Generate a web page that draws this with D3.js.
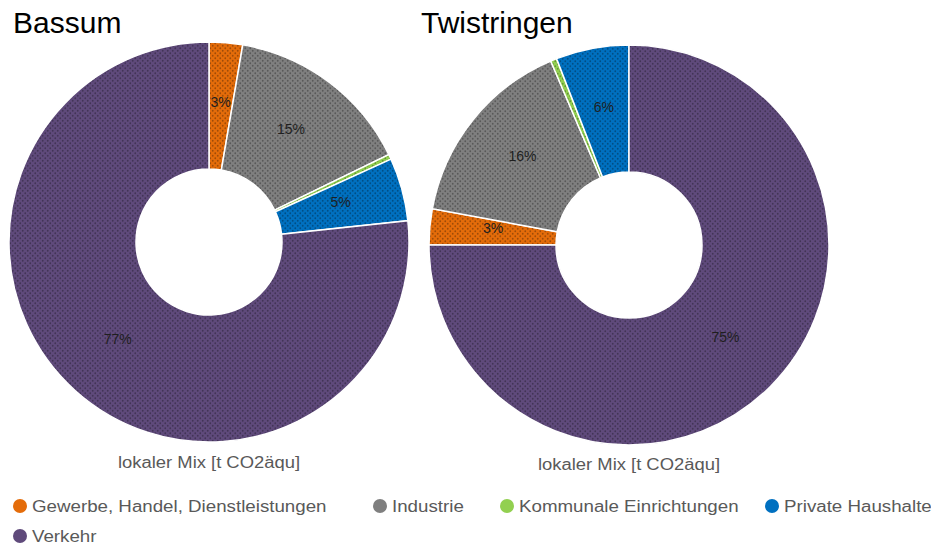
<!DOCTYPE html>
<html>
<head>
<meta charset="utf-8">
<script src="https://cdn.jsdelivr.net/npm/d3@7"></script>
<style>
  body { margin: 0; background: #fff; }
  svg { display: block; }
</style>
</head>
<body>
<div id="chart"></div>
<script>
// data (share of t CO2aeq)
var categories = ["Gewerbe, Handel, Dienstleistungen", "Industrie", "Kommunale Einrichtungen", "Private Haushalte", "Verkehr"];
var colors = ["#e46c0a", "#7f7f7f", "#92d050", "#0070c0", "#5f4a7b"];
var bassumValues = [2.7, 15.1, 0.4, 5.1, 76.7];
var twistringenValues = [2.9, 15.7, 0.5, 5.9, 75.0];
var titles = ["Bassum", "Twistringen"];
var axisTitle = "lokaler Mix [t CO2äqu]";

var totalWidth = 931;
var totalHeight = 546;

var svg = d3.select("#chart")
    .append("svg")
        .attr("width", totalWidth)
        .attr("height", totalHeight);

// dotted texture that sits on top of every slice
var defs = svg.append("defs");
colors.forEach(function(c, i) {
    var p = defs.append("pattern")
        .attr("id", "dots" + i)
        .attr("patternUnits", "userSpaceOnUse")
        .attr("width", 5)
        .attr("height", 5);
    p.append("rect").attr("width", 5).attr("height", 5).attr("fill", c);
    p.append("circle").attr("cx", 1.25).attr("cy", 1.25).attr("r", 0.9).attr("fill", "#000").attr("opacity", 0.3);
    p.append("circle").attr("cx", 3.75).attr("cy", 3.75).attr("r", 0.9).attr("fill", "#000").attr("opacity", 0.3);
});

var outerR = 200, innerR = 73;
var arc = d3.arc().innerRadius(innerR).outerRadius(outerR);
var pct = d3.format(".0f");

function drawDonut(values, cx, cy, startFrac, title, titleX, captionY) {
    var total = d3.sum(values);
    var start = -startFrac * 2 * Math.PI;
    var pie = d3.pie().sort(null).value(function(d) { return d; })
        .startAngle(start).endAngle(start + 2 * Math.PI);
    var arcs = pie(values);

    var g = svg.append("g").attr("transform", "translate(" + cx + "," + cy + ")");

    g.selectAll("path").data(arcs).enter().append("path")
        .attr("d", arc)
        .attr("fill", function(d, i) { return "url(#dots" + i + ")"; })
        .attr("stroke", "#fff")
        .attr("stroke-width", 1.5);

    // tiny slices (<1%) get no label
    g.selectAll("text.lbl").data(arcs.filter(function(d) { return d.value / total >= 0.01; }))
        .enter().append("text")
        .attr("class", "lbl")
        .attr("transform", function(d) { var c = arc.centroid(d); return "translate(" + c[0] + "," + (c[1] - 4) + ")"; })
        .attr("text-anchor", "middle")
        .attr("dy", "0.35em")
        .style("font-family", "'Liberation Sans', Arial, sans-serif")
        .style("font-size", "14px")
        .attr("fill", "#1f1f1f")
        .text(function(d) { return pct(d.value / total * 100) + "%"; });

    svg.append("text")
        .attr("x", cx)
        .attr("y", captionY)
        .attr("text-anchor", "middle")
        .style("font-family", "'Liberation Sans', Arial, sans-serif")
        .style("font-size", "16px")
        .attr("fill", "#595959")
        .text(axisTitle)
        .attr("textLength", function() { return this.getComputedTextLength() * 1.15; })
        .attr("lengthAdjust", "spacingAndGlyphs");

    svg.append("text")
        .attr("x", titleX)
        .attr("y", 33)
        .style("font-family", "'Liberation Sans', Arial, sans-serif")
        .style("font-size", "30px")
        .attr("fill", "#000")
        .text(title);
}

// Bassum starts with Gewerbe at 12 o'clock, Twistringen starts with Verkehr at 12 o'clock
drawDonut(bassumValues, 209, 242, 0, titles[0], 13, 468);
var tw = twistringenValues;
drawDonut(tw, 629, 245, (d3.sum(tw) - tw[4]) / d3.sum(tw), titles[1], 421, 470);

// legend
var legendItems = [
    {i: 0, x: 20, y: 506},
    {i: 1, x: 380, y: 506},
    {i: 2, x: 507, y: 506},
    {i: 3, x: 772, y: 506},
    {i: 4, x: 20, y: 536}
];
var legend = svg.append("g");
var li = legend.selectAll("g").data(legendItems).enter().append("g")
    .attr("transform", function(d) { return "translate(" + d.x + "," + d.y + ")"; });
li.append("circle").attr("r", 7).attr("fill", function(d) { return colors[d.i]; });
li.append("text")
    .attr("x", 12)
    .attr("dy", "0.35em")
    .style("font-family", "'Liberation Sans', Arial, sans-serif")
    .style("font-size", "16px")
    .attr("fill", "#595959")
    .text(function(d) { return categories[d.i]; })
    .attr("textLength", function() { return this.getComputedTextLength() * 1.17; })
    .attr("lengthAdjust", "spacingAndGlyphs");
</script>
</body>
</html>
